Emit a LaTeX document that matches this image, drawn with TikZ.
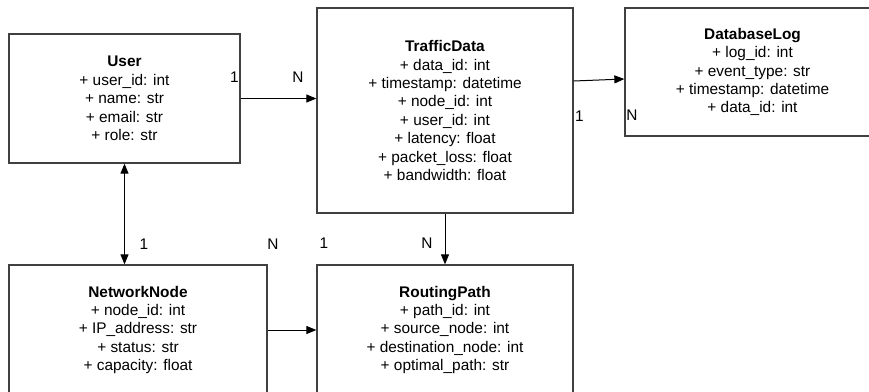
\documentclass[tikz,border=0pt]{standalone}
\usepackage{fontspec}
\setmainfont{Liberation Sans}
\usetikzlibrary{arrows.meta}
\begin{document}
\begin{tikzpicture}[x=1pt,y=-1pt,
  box/.style={draw=black!75, line width=1.3pt, fill=white, inner sep=0pt, align=center,
    font=\fontsize{15.4}{18.4}\selectfont},
  arr/.style={draw=black, line width=1pt, -{Triangle[length=10pt,width=8pt]}},
  darr/.style={draw=black, line width=1pt, {Triangle[length=10pt,width=8pt]}-{Triangle[length=10pt,width=8pt]}},
  lbl/.style={font=\fontsize{15.4}{18.4}\selectfont, inner sep=0pt}]
\useasboundingbox (0,0) rectangle (869,391);
\clip (0,0) rectangle (869,391);
\fill[white] (0,0) rectangle (869,391);
\node[box, minimum width=231pt, minimum height=129pt] (user) at (124.5,98.5)
  {\textbf{User}\\+ user\_id: int\\+ name: str\\+ email: str\\+ role: str};
\node[box, minimum width=256pt, minimum height=205pt] (td) at (445,110.5)
  {\textbf{TrafficData}\\+ data\_id: int\\+ timestamp: datetime\\+ node\_id: int\\+ user\_id: int\\+ latency: float\\+ packet\_loss: float\\+ bandwidth: float};
\node[box, minimum width=255pt, minimum height=128pt] (db) at (752.5,72)
  {\textbf{DatabaseLog}\\+ log\_id: int\\+ event\_type: str\\+ timestamp: datetime\\+ data\_id: int};
\node[box, minimum width=258pt, minimum height=130pt] (nn) at (138,330)
  {\textbf{NetworkNode}\\+ node\_id: int\\+ IP\_address: str\\+ status: str\\+ capacity: float};
\node[box, minimum width=256pt, minimum height=130pt] (rp) at (445,330)
  {\textbf{RoutingPath}\\+ path\_id: int\\+ source\_node: int\\+ destination\_node: int\\+ optimal\_path: str};
% connectors
\draw[arr] (user.east) -- (user.east -| td.west);
\draw[arr] ([yshift=29.5pt]td.east) -- ([yshift=-7pt]db.west);
\draw[arr] (td.south) -- (rp.north);
\draw[darr] (user.south) -- (user.south |- nn.north);
\draw[arr] (nn.east) -- (nn.east -| rp.west);
% labels
\node[lbl] (l1) at (234.5,77) {1};
\node[lbl] (l2) at (298,77) {N};
\node[lbl] (l3) at (579.5,116) {1};
\node[lbl] (l4) at (632,115) {N};
\node[lbl] (l5) at (144,244) {1};
\node[lbl] (l6) at (273,244) {N};
\node[lbl] (l7) at (324,243) {1};
\node[lbl] (l8) at (427,243) {N};
\end{tikzpicture}
\end{document}
